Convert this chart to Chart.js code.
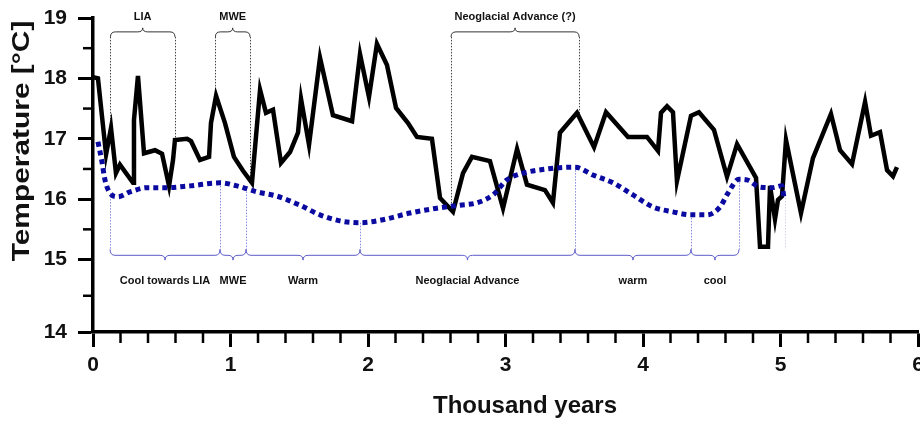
<!DOCTYPE html>
<html><head><meta charset="utf-8">
<script src="https://cdn.jsdelivr.net/npm/chart.js@4/dist/chart.umd.min.js"></script>
<style>html,body{margin:0;padding:0;background:#fff;}#wrap{width:920px;height:421px;position:relative;}</style>
</head><body><div id="wrap"><canvas id="c" width="920" height="421"></canvas></div>
<script>
// ---- data (thousand years, °C) ----
const ageKyr = [0.000,0.036,0.095,0.131,0.167,0.196,0.291,0.298,0.327,0.371,0.451,0.502,0.553,0.582,0.596,0.684,0.713,0.778,0.844,0.858,0.895,0.960,1.025,1.091,1.156,1.215,1.258,1.309,1.367,1.433,1.491,1.513,1.571,1.651,1.745,1.884,1.942,2.007,2.065,2.138,2.204,2.291,2.356,2.465,2.524,2.618,2.691,2.756,2.887,2.982,3.084,3.156,3.287,3.345,3.396,3.520,3.644,3.731,3.891,4.029,4.109,4.131,4.175,4.218,4.247,4.349,4.407,4.516,4.611,4.684,4.822,4.851,4.909,4.924,4.960,4.982,5.011,5.040,5.149,5.236,5.367,5.433,5.520,5.615,5.658,5.724,5.775,5.818,5.847];
const tempC  = [18.02,18.00,16.74,17.18,16.43,16.57,16.27,17.31,18.04,16.76,16.81,16.75,16.22,16.65,16.98,17.00,16.96,16.65,16.70,17.26,17.71,17.26,16.70,16.47,16.27,17.81,17.43,17.48,16.60,16.78,17.10,17.66,16.90,18.34,17.39,17.29,18.40,17.69,18.57,18.22,17.51,17.26,17.03,17.00,16.02,15.79,16.43,16.70,16.63,15.85,16.83,16.24,16.15,15.94,17.10,17.43,16.86,17.44,17.03,17.03,16.80,17.43,17.54,17.44,16.30,17.38,17.44,17.15,16.37,16.91,16.35,15.21,15.21,16.22,15.67,15.99,16.05,16.98,15.77,16.68,17.41,16.81,16.58,17.61,17.05,17.11,16.48,16.38,16.53];
const trendAge  = [0.036,0.065,0.087,0.124,0.182,0.269,0.393,0.538,0.705,0.924,1.047,1.193,1.338,1.505,1.651,1.796,1.942,2.109,2.305,2.502,2.669,2.793,2.909,3.011,3.127,3.302,3.505,3.636,3.782,3.927,4.073,4.218,4.349,4.465,4.560,4.618,4.698,4.756,4.851,4.938,5.011,5.025];
const trendTemp = [16.95,16.62,16.32,16.10,16.04,16.12,16.19,16.19,16.22,16.27,16.22,16.12,16.05,15.90,15.74,15.64,15.61,15.66,15.77,15.85,15.90,15.94,16.07,16.32,16.43,16.50,16.53,16.40,16.27,16.07,15.87,15.79,15.74,15.74,15.87,16.10,16.33,16.32,16.20,16.19,16.22,16.02];
const xTickValues = [0,1,2,3,4,5,6];
const yTickValues = [14,15,16,17,18,19];
const xTitle = 'Thousand years';
const yTitle = 'Temperature [°C]';
const topLabels = ['LIA','MWE','Neoglacial Advance (?)'];
const topStarts = [0.127,0.890,2.604];
const topEnds   = [0.596,1.142,3.535];
const bottomLabels = ['Cool towards LIA','MWE','Warm','Neoglacial Advance','warm','cool'];
const bottomBounds = [0.124,0.924,1.113,1.942,3.505,4.349,4.698];
const faintBound = 5.033;

const FONT = '"Liberation Sans", Arial, sans-serif';
// ---- scale with stretched lowest interval (as in the original figure) ----
const STRETCH_BREAK = 15, STRETCH_FACTOR = 1.2;
class StretchedLinear extends Chart.LinearScale {
  _u(v){ const lo=this.min; return v<STRETCH_BREAK ? (v-lo)*STRETCH_FACTOR : (STRETCH_BREAK-lo)*STRETCH_FACTOR + (v-STRETCH_BREAK); }
  getPixelForValue(v){ if (v===null||v===undefined||isNaN(v)) return NaN; return this.getPixelForDecimal(this._u(v)/this._u(this.max)); }
  getValueForPixel(p){ const u=this.getDecimalForPixel(p)*this._u(this.max); const ub=(STRETCH_BREAK-this.min)*STRETCH_FACTOR; return u<ub ? this.min+u/STRETCH_FACTOR : STRETCH_BREAK+(u-ub); }
}
StretchedLinear.id = 'stretchedLinear';
StretchedLinear.defaults = Chart.LinearScale.defaults;
Chart.register(StretchedLinear);

function interp(xs, ys, v){
  for (let i=0;i<xs.length-1;i++){ if (v<=xs[i+1]) return ys[i]+(ys[i+1]-ys[i])*(v-xs[i])/(xs[i+1]-xs[i]); }
  return ys[ys.length-1];
}
function brace(ctx, x1, x2, L, d, h){
  const xm=(x1+x2)/2, q=Math.min(5,(x2-x1)/4);
  ctx.beginPath();
  ctx.moveTo(x1, L-d*h);
  ctx.quadraticCurveTo(x1, L, x1+q, L);
  ctx.lineTo(xm-q, L);
  ctx.quadraticCurveTo(xm, L, xm, L+d*h*0.8);
  ctx.quadraticCurveTo(xm, L, xm+q, L);
  ctx.lineTo(x2-q, L);
  ctx.quadraticCurveTo(x2, L, x2, L-d*h);
  ctx.stroke();
}
const annot = {
  id:'annot',
  beforeDatasetsDraw(chart){
    const {ctx, scales:{x,y}} = chart;
    ctx.save();
    ctx.lineWidth=1; ctx.setLineDash([1.5,1.5]);
    ctx.strokeStyle='#444';
    const topL = y.getPixelForValue(18.77);
    topStarts.forEach((s,i)=>{
      [s, topEnds[i]].forEach(v=>{
        const px=Math.round(x.getPixelForValue(v))+0.5;
        ctx.beginPath(); ctx.moveTo(px, topL+5); ctx.lineTo(px, y.getPixelForValue(interp(ageKyr,tempC,v))); ctx.stroke();
      });
    });
    ctx.strokeStyle='#8a8ae0';
    const botL = y.getPixelForValue(15.07);
    bottomBounds.forEach(v=>{
      const px=Math.round(x.getPixelForValue(v))+0.5;
      ctx.beginPath(); ctx.moveTo(px, y.getPixelForValue(interp(trendAge,trendTemp,v))); ctx.lineTo(px, botL-6); ctx.stroke();
    });
    ctx.strokeStyle='#d4d4ea';
    const fx=Math.round(x.getPixelForValue(faintBound))+0.5;
    ctx.beginPath(); ctx.moveTo(fx, y.getPixelForValue(interp(trendAge,trendTemp,faintBound))); ctx.lineTo(fx, botL-6); ctx.stroke();
    ctx.setLineDash([]);
    ctx.lineWidth=1;
    ctx.strokeStyle='#333';
    topStarts.forEach((s,i)=>brace(ctx, x.getPixelForValue(s), x.getPixelForValue(topEnds[i]), topL, -1, 5));
    ctx.strokeStyle='#5c5cc8';
    for (let i=0;i<bottomBounds.length-1;i++) brace(ctx, x.getPixelForValue(bottomBounds[i]), x.getPixelForValue(bottomBounds[i+1]), botL, 1, 6);
    ctx.fillStyle='#111'; ctx.textAlign='center'; ctx.textBaseline='middle';
    ctx.font='bold 11px '+FONT;
    const topTextY = y.getPixelForValue(19.02);
    topLabels.forEach((t,i)=>ctx.fillText(t, (x.getPixelForValue(topStarts[i])+x.getPixelForValue(topEnds[i]))/2, topTextY));
    const botTextY = y.getPixelForValue(14.70);
    bottomLabels.forEach((t,i)=>ctx.fillText(t, (x.getPixelForValue(bottomBounds[i])+x.getPixelForValue(bottomBounds[i+1]))/2, botTextY));
    ctx.restore();
  },
  afterDraw(chart){
    const {ctx, scales:{x,y}, chartArea:a} = chart;
    ctx.save(); ctx.strokeStyle='#000'; ctx.lineWidth=2.5;
    for (let v=0.2; v<6; v+=0.2){ if (Math.abs(v-Math.round(v))<1e-6) continue; const px=x.getPixelForValue(v); ctx.beginPath(); ctx.moveTo(px,a.bottom); ctx.lineTo(px,a.bottom+11); ctx.stroke(); }
    for (let v=14.5; v<19; v+=1){ const py=y.getPixelForValue(v); ctx.beginPath(); ctx.moveTo(a.left,py); ctx.lineTo(a.left-10,py); ctx.stroke(); }
    ctx.fillStyle='#111'; ctx.textAlign='center'; ctx.textBaseline='middle';
    ctx.font='bold 24px '+FONT;
    ctx.fillText(xTitle, 525, 406);
    ctx.translate(23, 141); ctx.rotate(-Math.PI/2); ctx.scale(1.3,1);
    ctx.font='bold 23px '+FONT;
    ctx.fillText(yTitle, 0, 0);
    ctx.restore();
  }
};

new Chart(document.getElementById('c'), {
  type:'line',
  data:{ datasets:[
    { label:'trend', data: trendAge.map((a,i)=>({x:a,y:trendTemp[i]})), borderColor:'#0a0aa0', borderWidth:5, borderDash:[5,4], borderCapStyle:'butt', pointRadius:0, cubicInterpolationMode:'monotone', fill:false },
    { label:'temp', data: ageKyr.map((a,i)=>({x:a,y:tempC[i]})), borderColor:'#000', borderWidth:4.5, borderJoinStyle:'miter', pointRadius:0, tension:0, fill:false }
  ]},
  options:{
    responsive:false, animation:false, events:[],
    layout:{ autoPadding:false, padding:{top:18,right:2,left:0,bottom:0} },
    plugins:{ legend:{display:false}, tooltip:{enabled:false} },
    scales:{
      x:{ type:'linear', min:0, max:6,
        afterBuildTicks(s){ s.ticks = xTickValues.map(v=>({value:v})); },
        afterFit(s){ s.height = 89; s.paddingLeft = 0; s.paddingRight = 0; },
        grid:{ drawOnChartArea:false, drawTicks:true, tickLength:15, tickWidth:3, tickColor:'#000' },
        border:{ display:true, color:'#000', width:3.5 },
        ticks:{ color:'#111', padding:6, maxRotation:0, autoSkip:false, font:{family:FONT, size:21, weight:'bold'} },
        title:{ display:false }
      },
      y:{ type:'stretchedLinear', min:14, max:19,
        afterBuildTicks(s){ s.ticks = yTickValues.map(v=>({value:v})); },
        afterFit(s){ s.width = 93; s.paddingTop = 0; s.paddingBottom = 0; },
        grid:{ drawOnChartArea:false, drawTicks:true, tickLength:15, tickWidth:3, tickColor:'#000' },
        border:{ display:true, color:'#000', width:3.5 },
        ticks:{ color:'#111', padding:11, autoSkip:false, font:{family:FONT, size:21, weight:'bold'} },
        title:{ display:false }
      }
    }
  },
  plugins:[annot]
});
</script></body></html>
